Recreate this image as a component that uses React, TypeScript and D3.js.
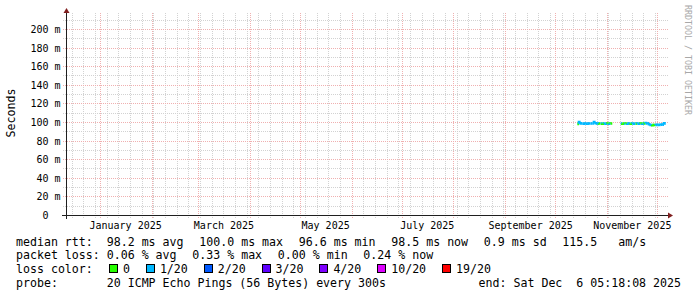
import React from "react";
import * as d3 from "d3";

const W = 697;
const H = 297;

// ---- time window ----
const endTime = "2025-12-06T05:18:08Z";
const spanDays = 360;

// ---- y axis ----
const yMax = 215.05;
const yMajorTicks = [0, 20, 40, 60, 80, 100, 120, 140, 160, 180, 200];
const yMinorTicks = [10, 30, 50, 70, 90, 110, 130, 150, 170, 190, 210];

// ---- x axis labels (every other month) ----
const monthLabels = ["January 2025", "March 2025", "May 2025", "July 2025", "September 2025", "November 2025"];

// ---- median rtt series (daily) ----
const sampleDays = [
  "2025-10-14", "2025-10-15", "2025-10-16", "2025-10-17", "2025-10-18", "2025-10-19", "2025-10-20",
  "2025-10-21", "2025-10-22", "2025-10-23", "2025-10-24", "2025-10-25", "2025-10-26", "2025-10-27",
  "2025-10-28", "2025-10-29", "2025-10-30", "2025-10-31", "2025-11-01", "2025-11-02", "2025-11-03",
  "2025-11-04", "2025-11-05", "2025-11-06", "2025-11-07", "2025-11-08", "2025-11-09", "2025-11-10",
  "2025-11-11", "2025-11-12", "2025-11-13", "2025-11-14", "2025-11-15", "2025-11-16", "2025-11-17",
  "2025-11-18", "2025-11-19", "2025-11-20", "2025-11-21", "2025-11-22", "2025-11-23", "2025-11-24",
  "2025-11-25", "2025-11-26", "2025-11-27", "2025-11-28", "2025-11-29", "2025-11-30", "2025-12-01",
  "2025-12-02", "2025-12-03", "2025-12-04", "2025-12-05", "2025-12-06",
];
const medianMs: (number | null)[] = [
  98.0, 100.0, 98.4, 98.4, 98.3, 98.4, 98.3,
  98.4, 98.4, 98.4, 100.0, 98.6, 98.5, 98.4,
  98.4, 98.3, 98.4, 98.3, 98.4, 98.3, 98.4,
  null, null, null, null, null, 98.4, 98.3,
  98.3, 98.4, 98.3, 98.4, 98.3, 98.4, 98.3,
  98.3, 98.4, 98.3, 98.4, 98.3, 98.4, 98.8,
  98.6, 97.6, 96.8, 96.6, 96.7, 96.8, 96.9,
  96.9, 97.0, 97.2, 98.5, 98.5,
];
const lossOf20: (number | null)[] = [
  0, 1, 1, 1, 1, 1, 1,
  1, 1, 1, 1, 1, 1, 0,
  1, 0, 1, 1, 0, 1, 0,
  null, null, null, null, null, 1, 0,
  1, 0, 1, 1, 0, 1, 1,
  0, 1, 1, 0, 1, 0, 1,
  1, 1, 1, 0, 0, 1, 1,
  1, 1, 1, 1, 1,
];

// ---- loss colour legend ----
const lossLevels = [0, 1, 2, 3, 4, 10, 19];
const lossLabels = ["0", "1/20", "2/20", "3/20", "4/20", "10/20", "19/20"];
const lossColors = ["#26ff00", "#00b8ff", "#0059ff", "#5e00ff", "#7e00ff", "#dd00ff", "#ff0000"];

// ---- statistics text ----
const rttStats = ["median rtt:  98.2 ms avg", "100.0 ms max", "96.6 ms min", "98.5 ms now", "0.9 ms sd", "115.5   am/s"];
const lossStats = ["packet loss: 0.06 % avg", "0.33 % max", "0.00 % min", "0.24 % now"];
const probeText = "probe:       20 ICMP Echo Pings (56 Bytes) every 300s";
const endText = "end: Sat Dec  6 05:18:08 2025";
const yTitle = "Seconds";
const watermark = "RRDTOOL / TOBI OETIKER";

const MONO = "'DejaVu Sans Mono', monospace";
const CW = 6.983; // char advance at 11.6px
const GAP = 15.7;
const PRE: React.CSSProperties = { whiteSpace: "pre" };

function lossColor(l: number) {
  let c = lossColors[0];
  lossLevels.forEach((lv, i) => {
    if (l >= lv) c = lossColors[i];
  });
  return c;
}

export default function App() {
  const end = new Date(endTime);
  const start = d3.utcDay.offset(end, -spanDays);
  const X0 = 66, X1 = 666, Y0 = 215, Y1 = 15;
  const x = d3.scaleUtc().domain([start, end]).range([X0, X1]);
  const y = d3.scaleLinear().domain([0, yMax]).range([Y0, Y1]);
  const px = (d: Date) => Math.floor(x(d)) + 0.5;
  const py = (v: number) => Math.round(y(v)) + 0.5;

  const months = d3.utcMonth.range(d3.utcMonth.ceil(start), end);
  const weeks = d3.utcSunday.range(start, end);
  const fmt = d3.utcFormat("%B %Y");
  const monthSet = new Set(months.map((m) => +m));

  const gridGray = "#d2d2d2";
  const gridRed = "#f0b0b0";

  // median line segments
  const times = sampleDays.map((d) => new Date(d + "T00:00:00Z"));
  const line = d3.line<[Date, number]>().x((p) => x(p[0])).y((p) => y(p[1]));
  const segs: { d: string; c: string }[] = [];
  medianMs.forEach((v, i) => {
    if (v == null) return;
    const t0 = times[i];
    const t1n = i + 1 < times.length ? times[i + 1] : end;
    const t1 = t1n > end ? end : t1n;
    const pts: [Date, number][] = [];
    const prev = i > 0 ? medianMs[i - 1] : null;
    if (prev != null) pts.push([t0, prev]);
    pts.push([t0, v]);
    pts.push([t1, v]);
    segs.push({ d: line(pts) || "", c: lossColor(lossOf20[i] ?? 0) });
  });

  // legend layout
  const rowY = [245.5, 259.2, 272.9, 286.6];
  const rowItems = (items: string[]) => {
    let cx = 16;
    return items.map((s) => {
      const el = { s, x: cx };
      cx += s.length * CW + GAP;
      return el;
    });
  };
  const boxes: { bx: number; lx: number; c: string; t: string }[] = [];
  {
    let bx = 109;
    lossLabels.forEach((t, i) => {
      const lx = bx + 14;
      boxes.push({ bx, lx, c: lossColors[i], t });
      bx = lx + t.length * CW + 15.9;
    });
  }

  return (
    <svg width={W} height={H} viewBox={`0 0 ${W} ${H}`} style={{ display: "block", position: "absolute", left: 0, top: 0, background: "#fff" }}>
      <rect x={0} y={0} width={W} height={H} fill="#fff" />
      {/* grid */}
      <g shapeRendering="crispEdges">
        {yMinorTicks.map((v) => (
          <line key={"hm" + v} x1={X0 - 3} x2={X1 + 2} y1={py(v)} y2={py(v)} stroke={gridGray} strokeDasharray="1,1" />
        ))}
        {weeks.filter((w) => !monthSet.has(+w)).map((w) => (
          <line key={"vm" + +w} x1={px(w)} x2={px(w)} y1={Y1 - 2} y2={Y0 + 3} stroke={gridGray} strokeDasharray="1,1" />
        ))}
        {yMajorTicks.filter((v) => v > 0).map((v) => (
          <line key={"hM" + v} x1={X0 - 3} x2={X1 + 2} y1={py(v)} y2={py(v)} stroke={gridRed} strokeDasharray="1,1" />
        ))}
        {months.map((m) => (
          <line key={"vM" + +m} x1={px(m)} x2={px(m)} y1={Y1 - 2} y2={Y0 + 3} stroke={gridRed} strokeDasharray="1,1" />
        ))}
      </g>

      {/* median rtt coloured by loss */}
      <g fill="none" strokeWidth={2.6} strokeLinejoin="miter" strokeLinecap="butt">
        {segs.map((s, i) => (
          <path key={i} d={s.d} stroke={s.c} />
        ))}
      </g>

      {/* axes */}
      <g shapeRendering="crispEdges">
        <line x1={X0 - 4} x2={X1 + 2} y1={Y0 + 0.5} y2={Y0 + 0.5} stroke="#1f1f1f" />
        <line x1={X0 + 0.5} x2={X0 + 0.5} y1={Y1 - 2} y2={Y0 + 4} stroke="#1f1f1f" />
      </g>
      <path d={`M${X0 - 2.5},${Y1 - 2} L${X0 + 3.5},${Y1 - 2} L${X0 + 0.5},${Y1 - 7} Z`} fill="#801f1f" />
      <path d={`M${X1 + 2},${Y0 - 2.5} L${X1 + 2},${Y0 + 3.5} L${X1 + 7},${Y0 + 0.5} Z`} fill="#801f1f" />

      {/* y labels */}
      <g fontFamily={MONO} fontSize={10} fill="#000" textAnchor="end">
        {yMajorTicks.map((v) => (
          <text key={"yl" + v} x={60.5} y={py(v) + 3.3} xmlSpace="preserve" style={PRE}>
            {v === 0 ? "0  " : `${v} m`}
          </text>
        ))}
      </g>
      {/* x labels */}
      <g fontFamily={MONO} fontSize={10} fill="#000" textAnchor="middle">
        {months
          .filter((m) => monthLabels.includes(fmt(m)))
          .map((m) => (
            <text key={"xl" + +m} x={x(d3.utcDay.offset(m, 15))} y={228.5}>
              {fmt(m)}
            </text>
          ))}
      </g>
      {/* y title */}
      <text transform="translate(15,113) rotate(-90)" textAnchor="middle" fontFamily={MONO} fontSize={11.6} fill="#000">
        {yTitle}
      </text>
      {/* watermark */}
      <text transform="translate(685,5) rotate(90)" fontFamily={MONO} fontSize={8.3} fill="#a8a8a8" xmlSpace="preserve" style={PRE}>
        {watermark}
      </text>

      {/* legend */}
      <g fontFamily={MONO} fontSize={11.6} fill="#000">
        {rowItems(rttStats).map((it, i) => (
          <text key={"r" + i} x={it.x} y={rowY[0]} xmlSpace="preserve" style={PRE}>{it.s}</text>
        ))}
        {rowItems(lossStats).map((it, i) => (
          <text key={"l" + i} x={it.x} y={rowY[1]} xmlSpace="preserve" style={PRE}>{it.s}</text>
        ))}
        <text x={16} y={rowY[2]}>loss color:</text>
        {boxes.map((b, i) => (
          <g key={"b" + i}>
            <rect x={b.bx + 0.5} y={rowY[2] - 8.5} width={8} height={8} fill={b.c} stroke="#000" strokeWidth={1} shapeRendering="crispEdges" />
            <text x={b.lx} y={rowY[2]}>{b.t}</text>
          </g>
        ))}
        <text x={16} y={rowY[3]} xmlSpace="preserve" style={PRE}>{probeText}</text>
        <text x={681} y={rowY[3]} textAnchor="end" xmlSpace="preserve" style={PRE}>{endText}</text>
      </g>
    </svg>
  );
}
